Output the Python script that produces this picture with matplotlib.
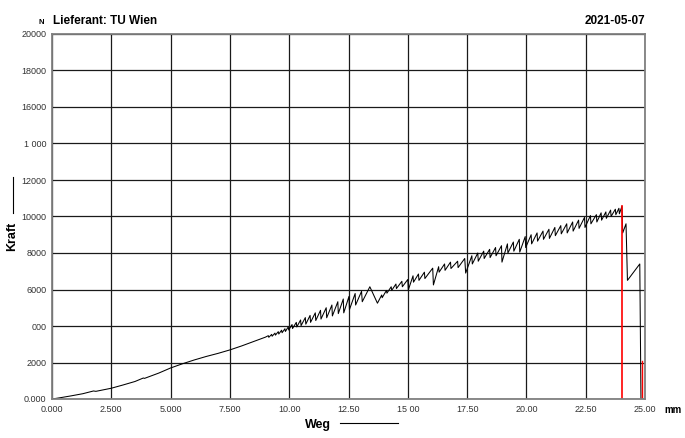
import matplotlib
matplotlib.use('Agg')
import matplotlib.pyplot as plt

plt.rcParams['font.family'] = ['Liberation Sans', 'DejaVu Sans']

# Messkurve Weg (mm) / Kraft (N)
weg = [0.0, 0.3, 0.8, 1.3, 1.75, 1.85, 2.2, 2.5, 3.0, 3.5, 3.85, 3.9, 4.5, 5.0,
       5.5, 6.0, 6.5, 7.0, 7.5, 8.0, 8.5, 9.0,
       9.12, 9.14, 9.26, 9.28, 9.40, 9.42, 9.54, 9.56, 9.68, 9.70, 9.82, 9.84,
       9.96, 9.98, 10.12, 10.14, 10.30, 10.32, 10.48, 10.50, 10.68, 10.70,
       10.88, 10.90, 11.10, 11.12, 11.32, 11.34, 11.56, 11.58, 11.80, 11.82,
       12.05, 12.07, 12.28, 12.30, 12.52, 12.54, 12.78, 12.80, 13.05, 13.08,
       13.40, 13.72,
       13.90, 13.92, 14.10, 14.12, 14.30, 14.32, 14.50, 14.52, 14.75, 14.77,
       15.00, 15.02, 15.22, 15.24, 15.45, 15.47, 15.70, 15.72, 16.05, 16.08,
       16.30, 16.32, 16.55, 16.57, 16.80, 16.82, 17.10, 17.12, 17.40, 17.44,
       17.70, 17.72, 17.95, 17.97, 18.20, 18.22, 18.45, 18.47, 18.70, 18.72,
       18.95, 18.97, 19.20, 19.22, 19.45, 19.47, 19.70, 19.72, 19.95, 19.97,
       20.20, 20.22, 20.45, 20.47, 20.70, 20.72, 20.95, 20.97, 21.20, 21.22,
       21.45, 21.47, 21.70, 21.72, 21.95, 21.97, 22.20, 22.22, 22.45, 22.47,
       22.70, 22.72, 22.95, 22.97, 23.15, 23.17, 23.35, 23.37, 23.55, 23.57,
       23.75, 23.77, 23.90, 23.92,
       24.03, 24.06, 24.20, 24.26, 24.78, 24.83]
kraft = [0, 60, 170, 290, 440, 420, 510, 590, 770, 960, 1150, 1130, 1420, 1700,
         1930, 2140, 2330, 2500, 2690, 2910, 3150, 3390,
         3470, 3380, 3540, 3440, 3610, 3500, 3690, 3560, 3770, 3630, 3850, 3700,
         3950, 3780, 4080, 3860, 4200, 3950, 4330, 4020, 4460, 4100,
         4580, 4200, 4720, 4300, 4860, 4380, 5000, 4450, 5150, 4550,
         5330, 4680, 5480, 4720, 5620, 4900, 5780, 5150, 5900, 5330,
         6150, 5250,
         5700, 5550, 5950, 5800, 6150, 5950, 6300, 6050, 6450, 6150,
         6550, 5970, 6750, 6400, 6850, 6500, 6950, 6600, 7170, 6250,
         7250, 6950, 7400, 7050, 7500, 7150, 7550, 7200, 7700, 6900,
         7850, 7400, 8000, 7550, 8100, 7700, 8200, 7750, 8300, 7850,
         8400, 7500, 8500, 8000, 8600, 8100, 8750, 8050, 8900, 8300,
         9000, 8500, 9100, 8650, 9200, 8750, 9300, 8800, 9400, 8950,
         9500, 9050, 9600, 9100, 9700, 9200, 9800, 9350, 9950, 9400,
         10050, 9600, 10100, 9700, 10200, 9800, 10250, 9900, 10350, 10000,
         10400, 10100, 10450, 10150,
         10570, 9100, 9600, 6500, 7400, 0]

# Markierungen: Fmax und Bruch
fmax_weg, fmax = 24.03, 10570
bruch_weg, bruch_kraft = 24.87, 2100

x_ticks = [0, 2.5, 5, 7.5, 10, 12.5, 15, 17.5, 20, 22.5, 25]
x_labels = ['0.000', '2.500', '5.000', '7.500', '10.00', '12.50', '15 00',
            '17.50', '20.00', '22.50', '25.00']
y_ticks = [0, 2000, 4000, 6000, 8000, 10000, 12000, 14000, 16000, 18000, 20000]
y_labels = ['0.000', '2000', '000', '6000', '8000', '10000', '12000',
            '1 000', '16000', '18000', '20000']

fig = plt.figure(figsize=(6.85, 4.38), dpi=100)
ax = fig.add_axes([52 / 685, 39 / 438, 593 / 685, 365 / 438])

ax.plot(weg, kraft, color='black', lw=0.75)
ax.plot([fmax_weg, fmax_weg], [0, fmax], color='#ff0000', lw=1.2)
ax.plot([bruch_weg, bruch_weg], [0, bruch_kraft], color='#ff0000', lw=1.0)

ax.set_xlim(0, 25)
ax.set_ylim(0, 20000)
ax.set_xticks(x_ticks)
ax.set_xticklabels(x_labels)
ax.set_yticks(y_ticks)
ax.set_yticklabels(y_labels)
ax.tick_params(length=0, labelsize=6.5, colors='#333333', pad=4)
ax.grid(True, color='#1a1a1a', lw=0.9)
for s in ax.spines.values():
    s.set_color('#808080')
    s.set_linewidth(1.3)

fig.text(53 / 685, 1 - 21 / 438, 'Lieferant: TU Wien', fontsize=8.5,
         fontweight='bold', va='center', ha='left')
fig.text(41 / 685, 1 - 22 / 438, 'N', fontsize=5.5, fontweight='bold',
         va='center', ha='center')
fig.text(645 / 685, 1 - 21 / 438, '2021-05-07', fontsize=8.5,
         fontweight='bold', va='center', ha='right')
fig.text(673 / 685, 1 - 410 / 438, 'mm', fontsize=7, fontweight='bold',
         va='center', ha='center')
fig.text(318 / 685, 1 - 425 / 438, 'Weg', fontsize=9, fontweight='bold',
         va='center', ha='center')
fig.add_artist(plt.Line2D([340 / 685, 398 / 685], [1 - 423 / 438, 1 - 423 / 438],
                          color='black', lw=0.8))
fig.text(12 / 685, 1 - 236 / 438, 'Kraft', fontsize=9, fontweight='bold',
         va='center', ha='center', rotation=90)
fig.add_artist(plt.Line2D([13 / 685, 13 / 685], [1 - 213 / 438, 1 - 177 / 438],
                          color='black', lw=0.8))

fig.savefig('out.png', dpi=100)
